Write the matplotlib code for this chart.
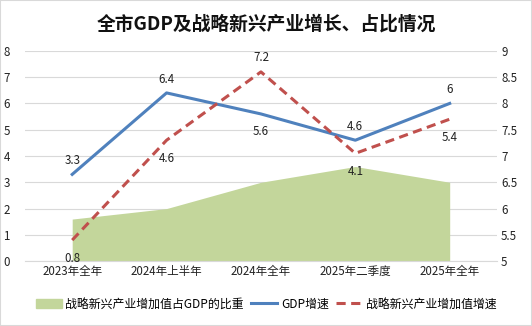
import matplotlib.pyplot as plt
import matplotlib.patches as mpatches
from matplotlib.lines import Line2D

plt.rcParams['font.family'] = ['Noto Sans CJK SC', 'DejaVu Sans']

cats = ['2023年全年', '2024年上半年', '2024年全年', '2025年二季度', '2025年全年']
share = [1.6, 2.0, 3.0, 3.6, 3.0]      # 战略新兴产业增加值占GDP的比重
gdp = [3.3, 6.4, 5.6, 4.6, 6]          # GDP增速
sei = [0.8, 4.6, 7.2, 4.1, 5.4]        # 战略新兴产业增加值增速
gdp_pos = ['up', 'up', 'down', 'up', 'up']
sei_pos = ['down', 'down', 'up', 'down', 'down']

fs = 8.3

fig = plt.figure(figsize=(5.32, 3.26), dpi=100)
ax = fig.add_axes([0.047, 0.199, 0.887, 0.645])
x = list(range(len(cats)))

ax.fill_between(x, 0, share, color='#C3D69B', lw=0, zorder=2)
ax.plot(x, gdp, color='#4F81BD', lw=2.2, zorder=3)
ax.plot(x, sei, color='#C0504D', lw=2.2, dashes=(3, 1.8), zorder=4)

for i in x:
    dy = 10 if gdp_pos[i] == 'up' else -13
    ax.annotate(str(gdp[i]), (i, gdp[i]), xytext=(0, dy), textcoords='offset points',
                ha='center', va='center', fontsize=fs, color='#222222')
    dy = 10 if sei_pos[i] == 'up' else -13
    ax.annotate(str(sei[i]), (i, sei[i]), xytext=(0, dy), textcoords='offset points',
                ha='center', va='center', fontsize=fs, color='#222222')

ax.set_xlim(-0.5, 4.5)
ax.set_ylim(0, 8)
ax.set_yticks(range(0, 9))
ax.set_xticks(x)
ax.set_xticklabels(cats)
ax.grid(axis='y', color='#D9D9D9', lw=0.8, zorder=0)
ax.set_axisbelow(True)
for s in ['top', 'left', 'right']:
    ax.spines[s].set_visible(False)
ax.spines['bottom'].set_color('#D9D9D9')
ax.tick_params(length=0, labelsize=fs, colors='#222222')
ax.tick_params(axis='y', pad=11)
ax.tick_params(axis='x', pad=3)

ax2 = ax.twinx()
ax2.set_ylim(5, 9)
ax2.set_yticks([5, 5.5, 6, 6.5, 7, 7.5, 8, 8.5, 9])
ax2.set_yticklabels(['5', '5.5', '6', '6.5', '7', '7.5', '8', '8.5', '9'])
for s in ['top', 'left', 'right', 'bottom']:
    ax2.spines[s].set_visible(False)
ax2.tick_params(length=0, labelsize=fs, colors='#222222', pad=3)

fig.suptitle('全市GDP及战略新兴产业增长、占比情况', y=0.955, fontsize=13.5,
             fontweight='bold', color='#111111')

handles = [mpatches.Patch(color='#C3D69B'),
           Line2D([], [], color='#4F81BD', lw=2.2),
           Line2D([], [], color='#C0504D', lw=2.2, dashes=(3, 1.8))]
labels = ['战略新兴产业增加值占GDP的比重', 'GDP增速', '战略新兴产业增加值增速']
fig.legend(handles, labels, loc='center', bbox_to_anchor=(0.5, 0.067), ncol=3,
           frameon=False, fontsize=fs + 0.3, handlelength=2.2, handletextpad=0.3,
           columnspacing=0.6)

fig.patches.append(mpatches.Rectangle((0, 0), 1, 1, transform=fig.transFigure,
                                      fill=False, edgecolor='#D9D9D9', lw=1.5))

fig.savefig('out.png', dpi=100)
